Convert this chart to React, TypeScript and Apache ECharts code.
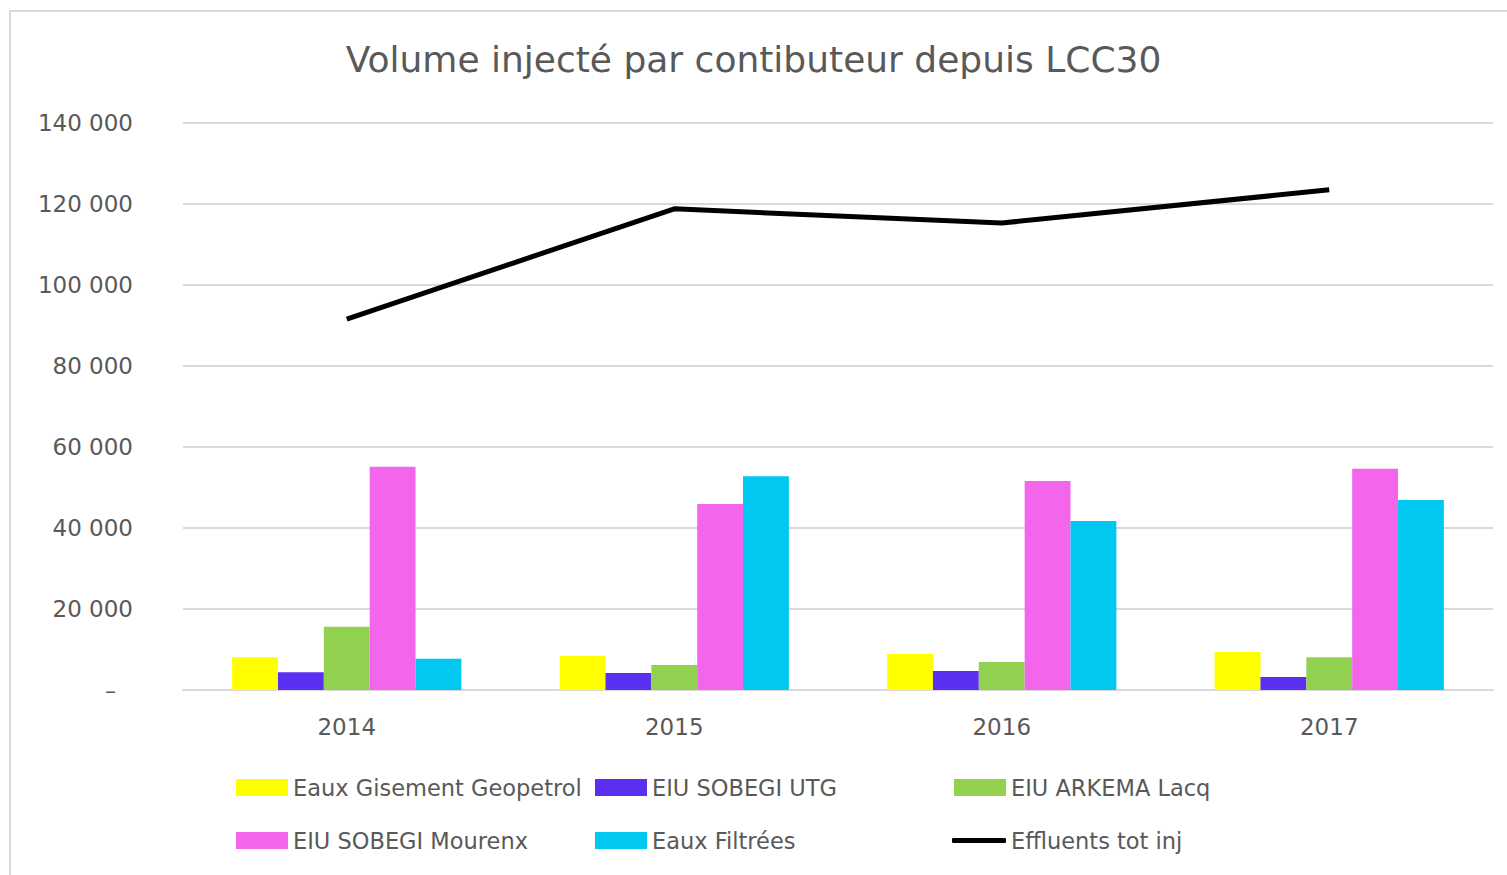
import React, { useEffect, useRef } from "react";
import * as echarts from "echarts";

const years = ["2014", "2015", "2016", "2017"];
const gisement = [8100, 8400, 8900, 9400];
const sobegiUtg = [4400, 4200, 4700, 3200];
const arkema = [15600, 6200, 6900, 8100];
const mourenx = [55100, 45900, 51600, 54600];
const filtrees = [7700, 52800, 41700, 46900];
const total = [91600, 118800, 115300, 123500];
const yTicks = [0, 20000, 40000, 60000, 80000, 100000, 120000, 140000];

const FONT = "'DejaVu Sans', 'Open Sans', sans-serif";
const GRAY = "#595959";

const fmt = (v: number) => {
  if (v === 0) return "{d|–}";
  const s = String(Math.round(v));
  return s.replace(/\B(?=(\d{3})+(?!\d))/g, " ");
};

export default function App() {
  const ref = useRef<HTMLDivElement>(null);
  useEffect(() => {
    if (!ref.current) return;
    const chart = echarts.init(ref.current, null, { renderer: "svg" });
    const legendText = { fontFamily: FONT, fontSize: 22.5, color: GRAY };
    const mkLegend = (name: string, left: number, top: number, line = false) => ({
      data: [{ name, icon: line ? "roundRect" : "rect" }],
      left,
      top,
      orient: "horizontal",
      itemWidth: line ? 54 : 52,
      itemHeight: line ? 5 : 17,
      itemGap: 0,
      padding: 0,
      textStyle: { ...legendText },
      selectedMode: false,
    });
    const barNames = [
      "Eaux Gisement Geopetrol",
      "EIU SOBEGI UTG",
      "EIU ARKEMA Lacq",
      "EIU SOBEGI Mourenx",
      "Eaux Filtrées",
    ];
    const barData = [gisement, sobegiUtg, arkema, mourenx, filtrees];
    const colors = ["#FFFF00", "#5B2FEF", "#92D050", "#F366EC", "#00C8F0"];
    chart.setOption({
      animation: false,
      title: {
        text: "Volume injecté par contibuteur depuis LCC30",
        left: "center",
        top: 36,
        textStyle: { fontFamily: FONT, fontSize: 36, fontWeight: "normal", color: GRAY },
      },
      graphic: [
        {
          type: "rect",
          shape: { x: 10, y: 11, width: 1520, height: 900 },
          style: { fill: "none", stroke: "#d9d9d9", lineWidth: 2 },
          silent: true,
        },
      ],
      legend: [
        mkLegend(barNames[0], 236, 776),
        mkLegend(barNames[1], 595, 776),
        mkLegend(barNames[2], 954, 776),
        mkLegend(barNames[3], 236, 829),
        mkLegend(barNames[4], 595, 829),
        mkLegend("Effluents tot inj", 952, 829, true),
      ],
      grid: { left: 183, right: 14, top: 123, bottom: 185 },
      xAxis: {
        type: "category",
        data: years,
        axisLine: { lineStyle: { color: "#d9d9d9", width: 2 } },
        axisTick: { show: false },
        axisLabel: { fontFamily: FONT, fontSize: 23, color: GRAY, margin: 25 },
      },
      yAxis: {
        type: "value",
        min: 0,
        max: 140000,
        interval: 20000,
        axisLine: { show: false },
        axisTick: { show: false },
        splitLine: { lineStyle: { color: "#d9d9d9", width: 2 } },
        axisLabel: {
          fontFamily: FONT,
          fontSize: 23,
          color: GRAY,
          margin: 50,
          formatter: (v: number) => (yTicks.includes(v) ? fmt(v) : ""),
          rich: { d: { fontFamily: FONT, fontSize: 22, color: GRAY, padding: [0, 17, 0, 0] } },
        },
      },
      series: [
        ...barNames.map((n, i) => ({
          name: n,
          type: "bar",
          data: barData[i],
          barGap: "0%",
          barCategoryGap: "30%",
          itemStyle: { color: colors[i] },
        })),
        {
          name: "Effluents tot inj",
          type: "line",
          data: total,
          symbol: "none",
          lineStyle: { color: "#000000", width: 5 },
          itemStyle: { color: "#000000" },
        },
      ],
    });
    return () => chart.dispose();
  }, []);
  return (
    <div
      ref={ref}
      style={{ position: "fixed", left: 0, top: 0, width: 1507, height: 875, background: "#fff" }}
    />
  );
}
